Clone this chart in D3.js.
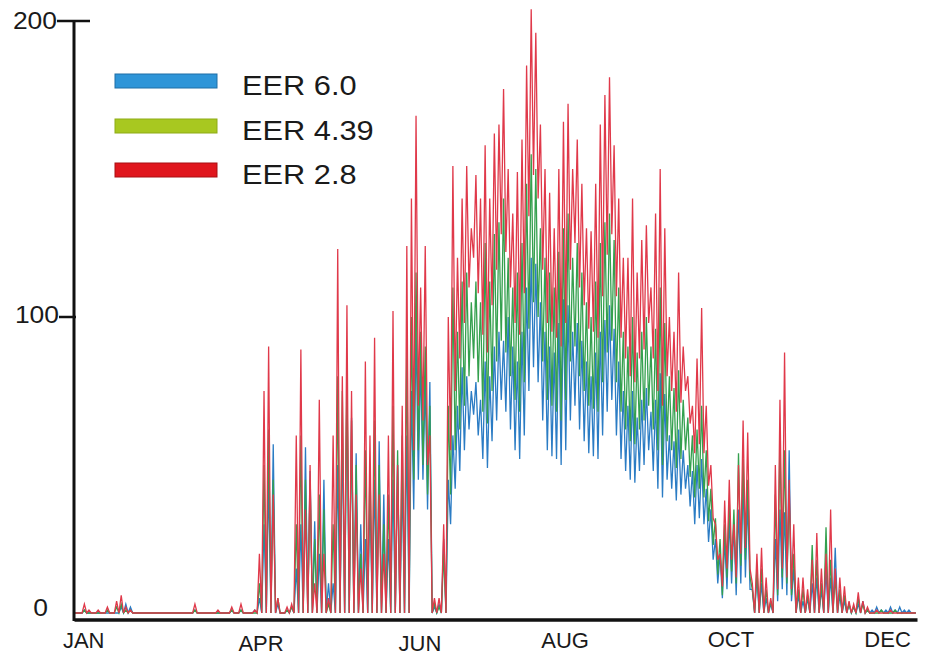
<!DOCTYPE html>
<html>
<head>
<meta charset="utf-8">
<script src="https://cdn.jsdelivr.net/npm/d3@7"></script>
<style>
  body { margin: 0; background: #fff; }
  svg { display: block; }
  text { font-family: "Liberation Sans", Arial, sans-serif; fill: #1a1a1a; }
</style>
</head>
<body>
<div id="chart"></div>
<script>
// series names (legend order)
const seriesNames = ["EER 6.0", "EER 4.39", "EER 2.8"];
const monthLabels = ["JAN", "APR", "JUN", "AUG", "OCT", "DEC"];
const monthDays = [4, 81, 150, 213, 285, 353];
const yTicks = [0, 100, 200];

// values, one peak / one trough per 2-day bin (183 bins)
const blueHi = [
  0,0,1,0,0,0,0,0,0,0, 2,3,2,0,0,0,0,0,0,0, 0,0,0,0,0,0,1,0,0,0, 0,0,0,0,1,0,1,0,0,1,
  5,30,45,57,3, 0,1,2,15,30, 56,48,31,20,45, 10,10,50,60,77, 66,54,30,25,40, 45,58,40,25,45, 50,45,60,75,97, 85,78,78,2,3, 25,
  45,60,70,83,80, 75,78,72,85,80, 90,95,92,100,90, 85,95,110,120,118, 105,95,90,88,98, 106,104,95,98,92,
  85,80,88,95,99, 104,96,85,75,70, 75,66,72,76,68, 72,81,74,60,58, 62,55,50,48,50, 52,42,35,25,20,
  25,32,30,35,45, 38,8,12,10,5, 3,25,35,34,55, 15,6,4,5,10, 12,8,14,12,22, 6,4,3,2,3, 4,1,1,2,1, 1,2,1,2,1, 1,0
];
const blueLo = [
  0,0,0,0,0,0,0,0,0,0, 0,0,0,0,0,0,0,0,0,0, 0,0,0,0,0,0,0,0,0,0, 0,0,0,0,0,0,0,0,0,0,
  0,0,0,0,0, 0,0,0,0,0, 0,0,0,0,0, 0,0,0,0,0, 0,0,0,0,0, 0,0,0,0,0, 0,0,0,35,45, 45,35,0,0,0, 0,
  30,42,48,55,62, 67,60,52,49,58, 65,72,68,62,55, 52,60,75,83,78, 65,55,53,52,50, 55,65,70,62,58,
  54,53,52,60,68, 72,60,52,48,45, 44,48,50,55,48, 42,39,45,42,38, 40,42,36,30,32, 30,24,18,10,5,
  8,10,6,10,12, 8,0,0,0,0, 0,4,8,6,4, 0,0,0,0,0, 0,0,0,0,0, 0,0,0,0,0, 0,0,0,0,0, 0,0,0,0,0, 0,0
];
const greenHi = [
  0,0,1,0,0,0,0,1,0,2, 3,1,1,0,0,0,0,0,0,0, 0,0,0,0,0,0,1,0,0,0, 0,0,0,0,1,0,1,0,0,0,
  10,50,62,45,5, 0,1,2,30,60, 45,45,25,40,35, 3,30,80,75,80, 65,50,20,55,50, 65,50,30,40,70, 55,60,90,100,115, 95,90,70,3,2, 20,
  70,110,95,112,115, 105,112,105,125,112, 128,132,140,120,110, 115,125,145,155,150, 130,120,115,110,122, 130,135,120,125,115,
  105,100,112,125,132, 135,126,110,95,90, 100,88,95,100,90, 96,110,98,80,76, 82,72,66,60,62, 70,55,42,32,25,
  30,38,35,54,52, 45,8,15,15,8, 4,40,58,55,40, 20,8,8,6,23, 18,10,29,18,12, 8,6,3,2,5, 3,1,0,0,1, 0,0,1,0,0, 0,0
];
const greenLo = [
  0,0,0,0,0,0,0,0,0,0, 0,0,0,0,0,0,0,0,0,0, 0,0,0,0,0,0,0,0,0,0, 0,0,0,0,0,0,0,0,0,0,
  0,0,0,0,0, 0,0,0,0,0, 0,0,0,0,0, 0,0,0,0,0, 0,0,0,0,0, 0,0,0,0,0, 0,0,0,45,55, 50,40,0,0,0, 0,
  40,55,62,70,80, 86,78,68,64,75, 85,92,88,80,72, 68,78,96,105,100, 85,72,70,68,65, 72,85,90,80,75,
  70,69,68,78,88, 92,78,68,62,58, 57,62,65,70,62, 55,50,58,55,49, 52,55,46,39,42, 39,31,23,13,6,
  12,14,10,16,18, 12,0,0,0,0, 0,6,12,10,6, 0,0,0,0,0, 0,0,0,0,0, 0,0,0,0,0, 0,0,0,0,0, 0,0,0,0,0, 0,0
];
const redHi = [
  0,0,3,1,0,1,0,2,0,4, 6,2,1,0,0,0,0,0,0,0, 0,0,0,0,0,0,3,0,0,0, 0,1,0,0,2,0,3,0,0,1,
  20,75,90,40,5, 0,2,3,60,89, 35,50,10,72,20, 5,60,123,80,104, 75,40,15,85,60, 93,40,20,60,102, 50,70,124,140,168, 110,124,60,5,5, 30,
  100,151,120,140,151, 130,148,140,158,140, 162,165,177,150,135, 149,160,185,204,196, 165,150,142,130,150, 166,172,150,160,145,
  130,129,145,165,175, 181,158,140,120,120, 140,115,126,131,110, 135,150,130,100,95, 115,90,80,70,86, 103,70,50,30,20,
  38,45,30,50,65, 61,10,20,22,12, 5,50,72,88,45, 30,12,12,8,18, 27,15,20,35,15, 12,9,4,3,7, 4,2,0,1,0, 0,1,0,0,0, 0,0
];
const redLo = [
  0,0,0,0,0,0,0,0,0,0, 0,0,0,0,0,0,0,0,0,0, 0,0,0,0,0,0,0,0,0,0, 0,0,0,0,0,0,0,0,0,0,
  0,0,0,0,0, 0,0,0,0,0, 0,0,0,0,0, 0,0,0,0,0, 0,0,0,0,0, 0,0,0,0,0, 0,0,0,55,70, 65,50,0,0,0, 0,
  55,75,86,98,110, 120,108,94,88,104, 116,128,122,110,98, 94,108,134,148,140, 116,98,95,93,90, 98,116,125,110,104,
  96,95,93,107,121, 128,107,93,86,80, 78,86,89,98,86, 75,70,80,75,68, 71,75,64,54,57, 54,43,32,18,9,
  15,18,12,20,22, 15,0,0,0,0, 0,8,15,12,8, 0,0,0,0,0, 0,0,0,0,0, 0,0,0,0,0, 0,0,0,0,0, 0,0,0,0,0, 0,0
];

const lineColors = ["#2b7cc4", "#34a04e", "#e0394a"];
const swatchColors = ["#2e95d8", "#a8c820", "#e0161d"];
const swatchStroke = ["#1f6ea6", "#8eab16", "#a80f12"];

const width = 937, height = 656;

const svg = d3.select("#chart").append("svg")
    .attr("width", width)
    .attr("height", height);

const x = d3.scaleLinear().domain([0, 366]).range([74, 917]);
const y = d3.scaleLinear().domain([0, 200]).range([613, 21]);

// build zigzag points: peak then trough in each 2-day bin
function toPoints(hi, lo) {
    const pts = [];
    hi.forEach((v, i) => {
        pts.push([2 * i + 0.5, v]);
        pts.push([2 * i + 1.5, lo[i]]);
    });
    return pts;
}

const series = [
    { name: seriesNames[0], pts: toPoints(blueHi, blueLo) },
    { name: seriesNames[1], pts: toPoints(greenHi, greenLo) },
    { name: seriesNames[2], pts: toPoints(redHi, redLo) }
];

const line = d3.line()
    .x(d => x(d[0]))
    .y(d => y(d[1]));

svg.append("g").selectAll("path")
    .data(series)
    .enter()
    .append("path")
    .attr("d", d => line(d.pts))
    .attr("fill", "none")
    .attr("stroke", (d, i) => lineColors[i])
    .attr("stroke-width", 1.3)
    .attr("stroke-linejoin", "miter");

// axes
svg.append("line")
    .attr("x1", 74).attr("x2", 74)
    .attr("y1", y(200)).attr("y2", 621)
    .attr("stroke", "#111").attr("stroke-width", 3);

const xAxis = svg.append("g")
    .attr("transform", "translate(0,619.5)")
    .call(d3.axisBottom(x).tickValues(monthDays)
        .tickFormat((d, i) => monthLabels[i])
        .tickSize(0).tickPadding(0));
xAxis.select(".domain").attr("stroke", "#111").attr("stroke-width", 3.5);
const labelDrop = [0, 3, 3, 0, -1, -1];
xAxis.selectAll("text")
    .attr("y", (d, i) => 28 + labelDrop[i])
    .attr("dy", null)
    .style("font-size", "22px")
    .style("font-family", "'Liberation Sans', Arial, sans-serif")
    .attr("fill", "#1a1a1a");

// y ticks
const tickLeft = { 200: 17, 100: 15, 0: 0 };
const tickRight = { 200: 16, 100: 2, 0: 0 };
svg.append("g").selectAll("line")
    .data(yTicks.filter(d => d > 0))
    .enter()
    .append("line")
    .attr("x1", d => 74 - tickLeft[d])
    .attr("x2", d => 74 + tickRight[d])
    .attr("y1", d => y(d)).attr("y2", d => y(d))
    .attr("stroke", "#111").attr("stroke-width", 2.5);

const labelRight = { 200: 57, 100: 59, 0: 48 };
const labelShift = { 200: 8, 100: 6, 0: 3 };
svg.append("g").selectAll("text")
    .data(yTicks)
    .enter()
    .append("text")
    .attr("transform", d => `translate(${labelRight[d]},${y(d) + labelShift[d]}) scale(1.15,1)`)
    .attr("text-anchor", "end")
    .style("font-size", "23px")
    .text(d => d);

// legend
const legend = svg.append("g");
const legendY = [74, 119, 163];
seriesNames.forEach((name, i) => {
    legend.append("rect")
        .attr("x", 115).attr("y", legendY[i])
        .attr("width", 102).attr("height", 14)
        .attr("fill", swatchColors[i])
        .attr("stroke", swatchStroke[i]).attr("stroke-width", 1);
    legend.append("text")
        .attr("transform", `translate(242,${legendY[i] + 21}) scale(1.14,1)`)
        .style("font-size", "27px")
        .text(name);
});
</script>
</body>
</html>
